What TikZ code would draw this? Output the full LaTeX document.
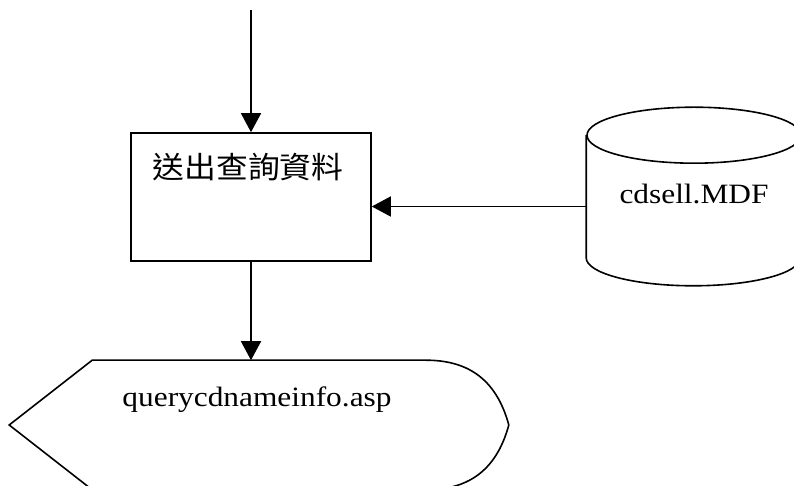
\documentclass[tikz,border=0pt]{standalone}
\usepackage{fontspec}
\setmainfont{Liberation Serif}
\newfontfamily\cjk{Noto Sans CJK TC}
\usepackage{tikz}
\usetikzlibrary{arrows.meta}
\newcommand{\wtxt}[2][1.12]{\scalebox{#1}[1]{#2}}

\begin{document}
\begin{tikzpicture}[x=1pt,y=1pt,line width=1.6pt,
   fleche/.style={-{Triangle[width=20pt,length=19pt]}},
   boite/.style={draw,minimum width=240pt,minimum height=128pt},
   zone/.style={minimum width=#1,minimum height=128pt,inner sep=0pt},
   etiquette/.style={font=\fontsize{28}{32}\selectfont,inner sep=0pt}]

  \useasboundingbox (0,0) rectangle (794,486);

  \coordinate (debut) at (251,476);
  \node[boite](envoi) at (251,289) {};
  \node[inner sep=0pt,font=\cjk\fontsize{30}{34}\selectfont](titre) at ([xshift=-3pt,yshift=30pt]envoi.center) {\wtxt[1.06]{送出查詢資料}};
  \node[zone=214pt,minimum height=177pt](base) at (694,289.5) {};
  \node[etiquette](nombase) at ([yshift=3pt]base.center) {\wtxt{cdsell.MDF}};
  \node[zone=498pt](ecran) at (259,61) {};
  \node[etiquette](page) at ([xshift=-2pt,yshift=25pt]ecran.center) {\wtxt{querycdnameinfo.asp}};

  % cylindre
  \draw ([yshift=-28pt]base.north) ellipse [x radius=107pt,y radius=28pt];
  \draw ([yshift=-28pt]base.north west) -- ([yshift=28pt]base.south west)
    arc [start angle=180,end angle=360,x radius=107pt,y radius=28pt]
    -- ([yshift=-28pt]base.north east);

  % affichage
  \draw (ecran.west) -- ([xshift=83pt]ecran.north west) -- ([xshift=-83pt]ecran.north east)
    .. controls ([xshift=-43pt]ecran.north east) and ([xshift=-13pt,yshift=-17pt]ecran.north east) .. (ecran.east)
    .. controls ([xshift=-13pt,yshift=17pt]ecran.south east) and ([xshift=-43pt]ecran.south east) .. ([xshift=-83pt]ecran.south east)
    -- ([xshift=83pt]ecran.south west) -- cycle;

  \draw[fleche] (debut) -- (envoi);
  \draw[fleche] ([yshift=-10pt]base.west) -- ([yshift=-10pt]base.west -| envoi.east);
  \draw[fleche] (envoi.south) -- (envoi.south |- ecran.north);
\end{tikzpicture}
\end{document}
